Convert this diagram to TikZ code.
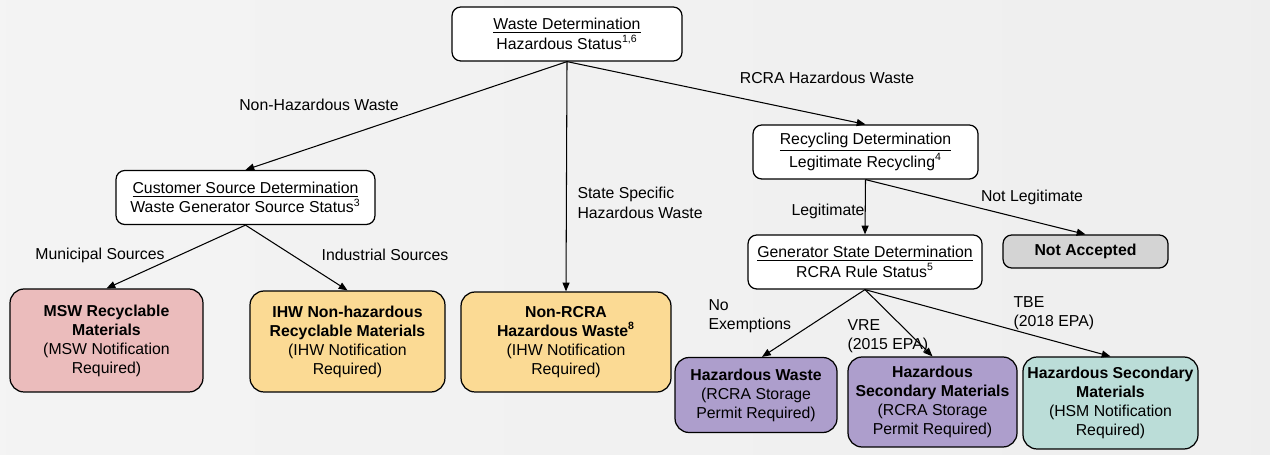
\documentclass[tikz,border=0pt]{standalone}
\usepackage{fontspec}
\setmainfont{Liberation Sans}
\usetikzlibrary{positioning,arrows.meta}
\definecolor{mswpink}{HTML}{EBBCBC}
\definecolor{ihworange}{HTML}{FBDA94}
\definecolor{rcrapurple}{HTML}{AD9ECC}
\definecolor{hsmteal}{HTML}{BBDDD8}
\definecolor{nagray}{HTML}{D4D4D4}
\newcommand{\bnode}[4]{\node [#1] (#2) at (#3) {#4}}
\newcommand{\fn}[1]{\textsuperscript{#1}}

\begin{document}
\begin{tikzpicture}[x=0.02cm, y=-0.02cm,
  font=\fontsize{9}{11}\selectfont,
  box/.style={draw, line width=0.7pt, rounded corners=5pt, fill=white,
    align=center, inner sep=1pt, minimum height=1.08cm},
  leaf/.style={draw, line width=0.7pt, rounded corners=8pt,
    align=center, inner sep=1pt, font=\fontsize{9}{10.8}\selectfont},
  arr/.style={-{Triangle[length=5pt,width=4pt]}, line width=0.6pt},
  lbl/.style={inner sep=0pt, align=left}]

\shade[left color=gray!9, middle color=gray!1, right color=gray!13]
  (0,0) rectangle (1270,455);

% decision boxes
\bnode{box, minimum width=4.6cm}{WD}{567,34}{\underline{Waste Determination}\\Hazardous Status\fn{1,6}};
\bnode{box, minimum width=5.18cm}{CSD}{245.5,197.5}{\underline{Customer Source Determination}\\Waste Generator Source Status\fn{3}};
\bnode{box, minimum width=4.5cm}{RD}{865.5,152}{\underline{Recycling Determination}\\Legitimate Recycling\fn{4}};
\bnode{box, minimum width=4.68cm}{GSD}{865,262}{\underline{Generator State Determination}\\RCRA Rule Status\fn{5}};
\bnode{leaf, fill=nagray, rounded corners=5pt, minimum width=3.3cm, minimum height=0.66cm}{NA}{1085.5,251.5}{\textbf{Not Accepted}};

% outcome boxes
\bnode{leaf, fill=mswpink, minimum width=3.86cm, minimum height=2.06cm}{MSW}{106.5,340.5}{\textbf{MSW Recyclable}\\\textbf{Materials}\\(MSW Notification\\Required)};
\bnode{leaf, fill=ihworange, minimum width=3.9cm, minimum height=2.02cm}{IHW}{347.5,341.5}{\textbf{IHW Non-hazardous}\\\textbf{Recyclable Materials}\\(IHW Notification\\Required)};
\bnode{leaf, fill=ihworange, minimum width=4.2cm, minimum height=2.0cm}{NRH}{566,342}{\textbf{Non-RCRA}\\\textbf{Hazardous Waste\fn{8}}\\(IHW Notification\\Required)};
\bnode{leaf, fill=rcrapurple, minimum width=3.24cm, minimum height=1.5cm}{HW}{756,395}{\textbf{Hazardous Waste}\\(RCRA Storage\\Permit Required)};
\bnode{leaf, fill=rcrapurple, minimum width=3.38cm, minimum height=1.8cm}{HSM}{932.5,402}{\textbf{Hazardous}\\\textbf{Secondary Materials}\\(RCRA Storage\\Permit Required)};
\bnode{leaf, fill=hsmteal, minimum width=3.5cm, minimum height=1.84cm}{HSMN}{1110.5,403}{\textbf{Hazardous Secondary}\\\textbf{Materials}\\(HSM Notification\\Required)};

% connectors
\draw[arr] (WD.south) -- (CSD.north) node [lbl] at (319,105) {Non-Hazardous Waste};
\draw[arr] (WD.south) -- (NRH.north) node [lbl, anchor=west] at (577,203) {State Specific\\Hazardous Waste};
\draw[arr] (WD.south) -- (RD.north) node [lbl] at (827,78) {RCRA Hazardous Waste};
\draw[arr] (CSD.south) -- (MSW.north) node [lbl] at (100,255) {Municipal Sources};
\draw[arr] (CSD.south) -- (IHW.north) node [lbl] at (385,255) {Industrial Sources};
\draw[arr] (RD.south) -- (GSD.north) node [lbl] at (828,211) {Legitimate};
\draw[arr] (RD.south) -- (NA.north) node [lbl] at (1032,197) {Not Legitimate};
\draw[arr] (GSD.south) -- ([xshift=0.12cm]HW.north) node [lbl, anchor=west] at (708,316) {No\\Exemptions};
\draw[arr] (GSD.south) -- (HSM.north) node [lbl, anchor=west] at (847,336) {VRE\\(2015 EPA)};
\draw[arr] (GSD.south) -- (HSMN.north) node [lbl, anchor=west] at (1013,313) {TBE\\(2018 EPA)};

\end{tikzpicture}
\end{document}
